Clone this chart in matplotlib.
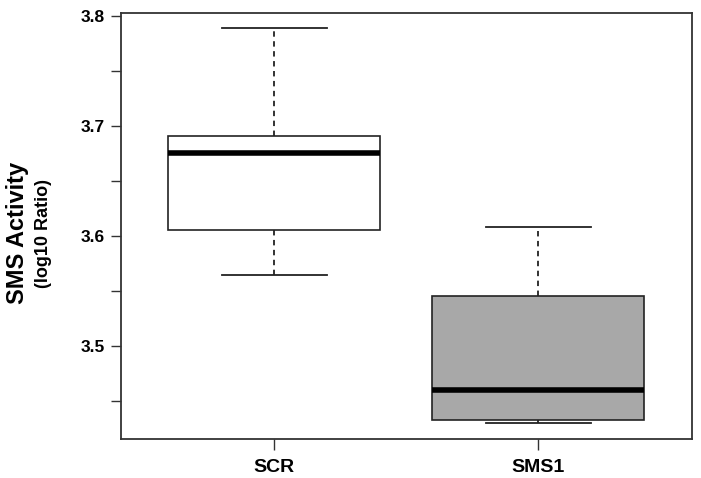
import matplotlib
matplotlib.use('Agg')
import matplotlib.pyplot as plt
from matplotlib.ticker import MultipleLocator

plt.rcParams['font.family'] = ['Liberation Sans', 'DejaVu Sans']

# values
groups = ['SCR', 'SMS1']
whis_low = [3.564, 3.4296]
q1 = [3.6057, 3.4324]
medians = [3.6752, 3.4593]
q3 = [3.6904, 3.5449]
whis_high = [3.7894, 3.6078]
fills = ['white', '#a8a8a8']

stats = []
for i in range(len(groups)):
    stats.append({'label': groups[i], 'whislo': whis_low[i], 'q1': q1[i],
                  'med': medians[i], 'q3': q3[i], 'whishi': whis_high[i],
                  'fliers': []})

fig = plt.figure(figsize=(7.01, 4.78), dpi=100)
ax = fig.add_axes([0.1719, 0.0812, 0.8157, 0.8922])

bp = ax.bxp(stats, positions=[1, 2], widths=0.803, patch_artist=True,
            showfliers=False,
            boxprops=dict(edgecolor='#222222', linewidth=1.2),
            whiskerprops=dict(color='#222222', linewidth=1.3, linestyle=(0, (3, 2.5))),
            capprops=dict(color='#222222', linewidth=1.3),
            medianprops=dict(color='black', linewidth=4, solid_capstyle='butt'),
            capwidths=0.4)
for patch, c in zip(bp['boxes'], fills):
    patch.set_facecolor(c)

ax.set_xlim(0.417, 2.583)
ax.set_ylim(3.415, 3.803)
ax.yaxis.set_major_locator(MultipleLocator(0.1))
ax.yaxis.set_minor_locator(MultipleLocator(0.05))
ax.set_yticklabels(['%.1f' % t for t in ax.get_yticks()])
ax.set_xticks([1, 2])
ax.set_xticklabels(groups, fontsize=14, fontweight='bold')
for lab in ax.get_yticklabels():
    lab.set_fontweight('bold')
    lab.set_fontsize(12.5)
ax.tick_params(axis='y', which='both', length=7, width=1, color='#333333', pad=4)
ax.tick_params(axis='x', length=8, width=1, color='#333333', pad=6)
for s in ax.spines.values():
    s.set_linewidth(1.3)
    s.set_color('#333333')

fig.text(18 / 701, 1 - 233 / 478, 'SMS Activity', rotation=90, fontsize=17,
         fontweight='bold', ha='center', va='center')
fig.text(44 / 701, 1 - 234 / 478, '(log10 Ratio)', rotation=90, fontsize=13,
         fontweight='bold', ha='center', va='center')

fig.savefig('out.png', dpi=100)
